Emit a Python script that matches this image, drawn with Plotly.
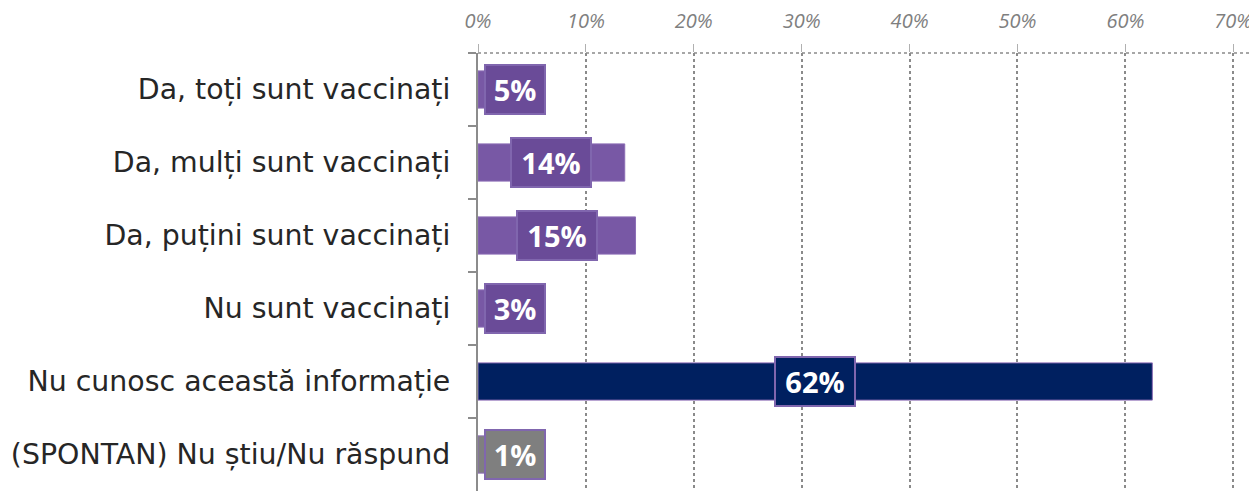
import plotly.graph_objects as go

categories = [
    "Da, toți sunt vaccinați",
    "Da, mulți sunt vaccinați",
    "Da, puțini sunt vaccinați",
    "Nu sunt vaccinați",
    "Nu cunosc această informație",
    "(SPONTAN) Nu știu/Nu răspund",
]
values = [5, 13.6, 14.6, 3, 62.5, 1]
labels = ["5%", "14%", "15%", "3%", "62%", "1%"]
bar_colors = ["#7858A5", "#7858A5", "#7858A5", "#7858A5", "#002060", "#7F7F7F"]
box_colors = ["#6A4B98", "#6A4B98", "#6A4B98", "#6A4B98", "#002060", "#7F7F7F"]
tick_vals = [0, 10, 20, 30, 40, 50, 60, 70]
tick_text = ["0%", "10%", "20%", "30%", "40%", "50%", "60%", "70%"]

fig = go.Figure()
fig.add_trace(go.Bar(
    x=values, y=categories, orientation="h",
    marker=dict(color=bar_colors, line=dict(color="#8C6DB5", width=1)),
    width=0.51, hoverinfo="skip",
))

for cat, v, lab, bc in zip(categories, values, labels, box_colors):
    fig.add_annotation(
        x=max(v / 2, 3.4), y=cat, xref="x", yref="y",
        text="<b>" + lab + "</b>", showarrow=False,
        font=dict(family="Open Sans", size=29, color="white"),
        bgcolor=bc, bordercolor="#8066AE", borderwidth=2, borderpad=4,
        width=20 * len(lab) + 10, height=39, align="center",
        xanchor="center", yanchor="middle",
    )

fig.add_shape(type="line", xref="x", yref="paper", x0=0, x1=72.2, y0=1, y1=1,
              line=dict(color="#8A8A8A", width=1.5, dash="dot"))

fig.update_layout(
    width=1249, height=484,
    margin=dict(l=470, r=0, t=45, b=1, autoexpand=False),
    paper_bgcolor="white", plot_bgcolor="white",
    showlegend=False,
    xaxis=dict(
        side="top", range=[0, 72.2], tickvals=tick_vals, ticktext=tick_text,
        tickfont=dict(family="Open Sans", size=20, color="#7F7F7F", style="italic"),
        showgrid=True, gridcolor="#8A8A8A", griddash="dot", gridwidth=1.5,
        zeroline=False, showline=False, automargin=False,
        ticks="outside", ticklen=8, tickcolor="#B0B0B0",
        ticklabelstandoff=8,
    ),
    yaxis=dict(
        autorange="reversed", tickson="boundaries", automargin=False,
        tickfont=dict(family="DejaVu Sans", size=28.4, color="#262626"),
        showline=True, linecolor="#8C8C8C", linewidth=2,
        ticks="outside", ticklen=8, tickcolor="#8C8C8C", tickwidth=2,
        ticklabelstandoff=20, showgrid=False,
    ),
)

fig.write_html("out.html")
